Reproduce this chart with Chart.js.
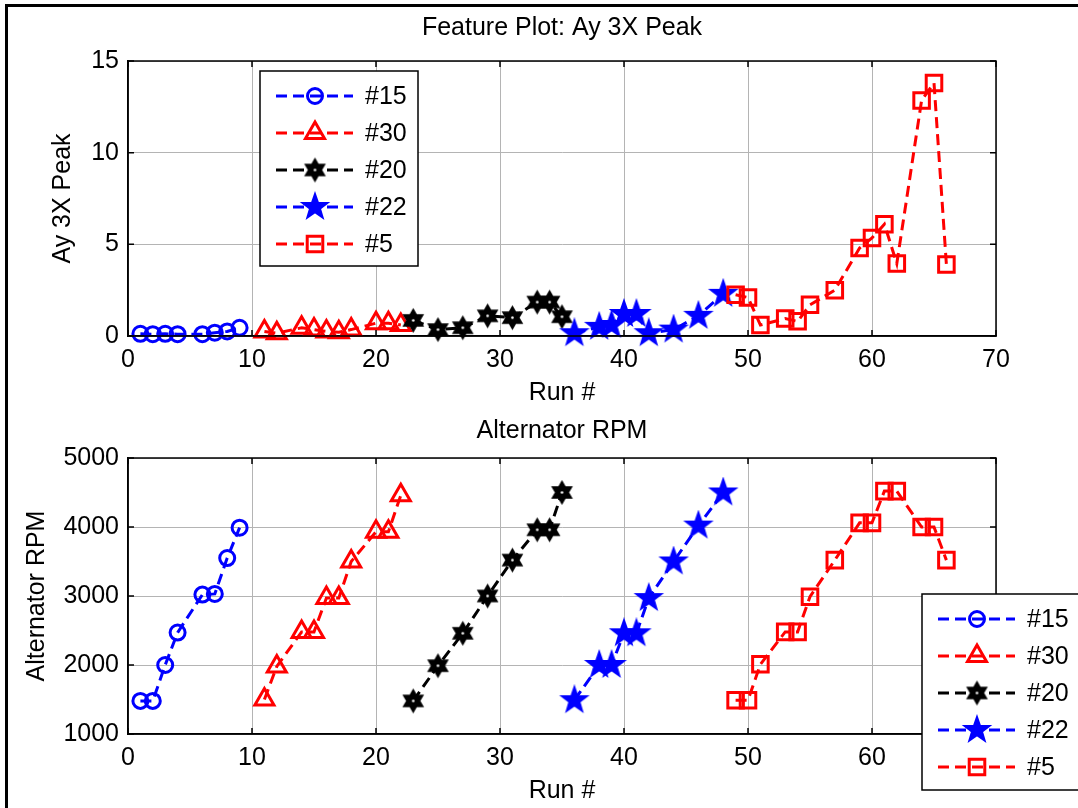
<!DOCTYPE html>
<html>
<head>
<meta charset="utf-8">
<script src="https://cdn.jsdelivr.net/npm/chart.js@4.4.1/dist/chart.umd.min.js"></script>
<style>
  html, body { margin: 0; padding: 0; background: #fff; }
  body { width: 1078px; height: 808px; position: relative; overflow: hidden; }
  #frame { position: absolute; left: 5px; top: 4px; width: 1200px; height: 1000px; border-left: 3px solid #000; border-top: 3px solid #000; }
  #top { position: absolute; left: 0; top: 0; }
  #bottom { position: absolute; left: 0; top: 404px; }
</style>
</head>
<body>
<div id="frame"></div>
<canvas id="top" width="1078" height="410"></canvas>
<canvas id="bottom" width="1078" height="404"></canvas>
<script>
// runs per test series
const runs15 = [1, 2, 3, 4, 6, 7, 8, 9];
const runs30 = [11, 12, 14, 15, 16, 17, 18, 20, 21, 22];
const runs20 = [23, 25, 27, 29, 31, 33, 34, 35];
const runs22 = [36, 38, 39, 40, 41, 42, 44, 46, 48];
const runs5 = [49, 50, 51, 53, 54, 55, 57, 59, 60, 61, 62, 64, 65, 66];

// Ay 3X peak
const peak15 = [0.12, 0.1, 0.12, 0.1, 0.1, 0.18, 0.25, 0.45];
const peak30 = [0.25, 0.15, 0.45, 0.35, 0.25, 0.2, 0.35, 0.7, 0.7, 0.6];
const peak20 = [0.85, 0.35, 0.45, 1.1, 1.0, 1.85, 1.85, 1.05];
const peak22 = [0.15, 0.5, 0.6, 1.2, 1.2, 0.15, 0.35, 1.1, 2.3];
const peak5 = [2.25, 2.1, 0.6, 0.95, 0.8, 1.7, 2.5, 4.8, 5.35, 6.1, 3.95, 12.85, 13.8, 3.9];

// alternator rpm
const rpm15 = [1480, 1480, 2000, 2470, 3020, 3030, 3550, 3990];
const rpm30 = [1500, 1980, 2480, 2480, 2970, 2970, 3500, 3930, 3930, 4460];
const rpm20 = [1480, 1990, 2460, 3000, 3520, 3960, 3960, 4500];
const rpm22 = [1490, 2000, 2000, 2460, 2460, 2970, 3500, 4020, 4500];
const rpm5 = [1490, 1490, 2010, 2480, 2480, 2990, 3520, 4060, 4060, 4520, 4520, 4000, 4000, 3520];

const seriesLabels = ['#15', '#30', '#20', '#22', '#5'];
const xTickValues = [0, 10, 20, 30, 40, 50, 60, 70];
const peakTickValues = [0, 5, 10, 15];
const rpmTickValues = [1000, 2000, 3000, 4000, 5000];

const FONT = '"Liberation Sans", Arial, Helvetica, sans-serif';
const BLUE = '#0000ff', RED = '#ff0000', BLACK = '#000000';

// star shaped markers (matlab pentagram / hexagram)
function starMarker(points, rOut, rIn, color, dot) {
  const size = Math.ceil(2 * rOut + 6);
  const c = document.createElement('canvas');
  c.width = c.height = size;
  const g = c.getContext('2d');
  const cx = size / 2;
  g.beginPath();
  for (let i = 0; i < points * 2; i++) {
    const r = i % 2 ? rIn : rOut;
    const a = -Math.PI / 2 + i * Math.PI / points;
    g.lineTo(cx + r * Math.cos(a), cx + r * Math.sin(a));
  }
  g.closePath();
  g.fillStyle = color;
  g.fill();
  g.strokeStyle = color;
  g.lineWidth = 2;
  g.stroke();
  if (dot) {
    g.beginPath();
    g.arc(cx, cx, 1.3, 0, Math.PI * 2);
    g.fillStyle = '#fff';
    g.fill();
  }
  return c;
}
const hexagram = starMarker(6, 10.5, 6, BLACK, true);
const pentagram = starMarker(5, 13, 5.2, BLUE, false);

const markers = [
  { color: BLUE, style: 'circle', radius: 7.5 },
  { color: RED, style: 'triangle', radius: 11 },
  { color: BLACK, style: hexagram, radius: 10 },
  { color: BLUE, style: pentagram, radius: 12 },
  { color: RED, style: 'rect', radius: 11 }
];

function makeDatasets(runsList, valuesList) {
  return runsList.map((runs, i) => ({
    label: seriesLabels[i],
    data: runs.map((r, j) => ({ x: r, y: valuesList[i][j] })),
    borderColor: markers[i].color,
    borderWidth: 3,
    borderDash: [11, 6],
    tension: 0,
    fill: false,
    pointStyle: markers[i].style,
    pointRadius: markers[i].radius,
    pointBorderWidth: 3,
    pointBorderColor: markers[i].color,
    pointBackgroundColor: 'rgba(0,0,0,0)',
    clip: false,
    order: runsList.length - i
  }));
}

const runsList = [runs15, runs30, runs20, runs22, runs5];

// axes box, inward ticks and the legend box
const matlabBox = {
  id: 'matlabBox',
  afterDraw(chart, args, opts) {
    const { ctx, chartArea: a } = chart;
    const x = chart.scales.x, y = chart.scales.y;
    ctx.save();
    ctx.strokeStyle = '#000';
    ctx.lineWidth = 1.5;
    ctx.setLineDash([]);
    ctx.strokeRect(a.left, a.top, a.right - a.left, a.bottom - a.top);
    ctx.beginPath();
    x.ticks.forEach(t => {
      const px = x.getPixelForValue(t.value);
      ctx.moveTo(px, a.bottom); ctx.lineTo(px, a.bottom - 6);
      ctx.moveTo(px, a.top); ctx.lineTo(px, a.top + 6);
    });
    y.ticks.forEach(t => {
      const py = y.getPixelForValue(t.value);
      ctx.moveTo(a.left, py); ctx.lineTo(a.left + 6, py);
      ctx.moveTo(a.right, py); ctx.lineTo(a.right - 6, py);
    });
    ctx.stroke();

    const L = opts.legend;
    if (L) {
      ctx.fillStyle = '#fff';
      ctx.fillRect(L.left, L.top, L.width, L.height);
      ctx.lineWidth = 1.5;
      ctx.strokeStyle = '#000';
      ctx.strokeRect(L.left, L.top, L.width, L.height);
      chart.data.datasets.forEach((ds, i) => {
        const cy = L.top + 25 + i * 37;
        ctx.setLineDash([11, 6]);
        ctx.strokeStyle = ds.borderColor;
        ctx.lineWidth = 3;
        ctx.beginPath();
        ctx.moveTo(L.left + 16, cy);
        ctx.lineTo(L.left + 93, cy);
        ctx.stroke();
        ctx.setLineDash([]);
        ctx.fillStyle = 'rgba(0,0,0,0)';
        Chart.helpers.drawPoint(ctx, {
          pointStyle: ds.pointStyle, radius: ds.pointRadius,
          borderWidth: 3, rotation: 0
        }, L.left + 55, cy);
        ctx.fillStyle = '#000';
        ctx.font = '25px ' + FONT;
        ctx.textBaseline = 'middle';
        ctx.textAlign = 'left';
        ctx.fillText(ds.label, L.left + 105, cy + 1);
      });
    }
    ctx.restore();
  }
};

function makeOptions(cfg) {
  const tickFont = { family: FONT, size: 25 };
  const titleFont = { family: FONT, size: 25, weight: 'normal' };
  return {
    responsive: false,
    animation: false,
    events: [],
    layout: { padding: { left: 0, right: 82, top: 0, bottom: 0 } },
    plugins: {
      legend: { display: false },
      tooltip: { enabled: false },
      title: {
        display: true, text: cfg.title, color: '#000', fullSize: false,
        font: titleFont, padding: cfg.titlePad
      },
      matlabBox: { legend: cfg.legend }
    },
    scales: {
      x: {
        type: 'linear', min: 0, max: 70,
        afterBuildTicks: s => { s.ticks = xTickValues.map(v => ({ value: v })); },
        afterFit: s => { s.height = cfg.xHeight; },
        ticks: { color: '#000', font: tickFont, padding: 9, maxRotation: 0, autoSkip: false },
        grid: { color: '#b4b4b4', lineWidth: 1, drawTicks: false },
        border: { display: true, color: '#000', width: 1.5 },
        title: { display: true, text: 'Run #', color: '#000', font: titleFont, padding: { top: 0, bottom: 2 } }
      },
      y: {
        type: 'linear', min: cfg.yTicks[0], max: cfg.yTicks[cfg.yTicks.length - 1],
        afterBuildTicks: s => { s.ticks = cfg.yTicks.map(v => ({ value: v })); },
        afterFit: s => { s.width = 128; },
        ticks: { color: '#000', font: tickFont, padding: 9, callback: v => String(v) },
        grid: { color: '#b4b4b4', lineWidth: 1, drawTicks: false },
        border: { display: true, color: '#000', width: 1.5 },
        title: { display: true, text: cfg.yTitle, color: '#000', font: titleFont, padding: { top: cfg.yTitleOffset, bottom: 0 } }
      }
    }
  };
}

new Chart(document.getElementById('top'), {
  type: 'line',
  data: { datasets: makeDatasets(runsList, [peak15, peak30, peak20, peak22, peak5]) },
  options: makeOptions({
    title: 'Feature Plot: Ay 3X Peak',
    titlePad: { top: 13.5, bottom: 17.5 },
    xHeight: 74,
    yTicks: peakTickValues,
    yTitle: 'Ay 3X Peak',
    yTitleOffset: 48,
    legend: { left: 260, top: 71, width: 158, height: 195 }
  }),
  plugins: [matlabBox]
});

new Chart(document.getElementById('bottom'), {
  type: 'line',
  data: { datasets: makeDatasets(runsList, [rpm15, rpm30, rpm20, rpm22, rpm5]) },
  options: makeOptions({
    title: 'Alternator RPM',
    titlePad: { top: 12, bottom: 12 },
    xHeight: 74,
    yTicks: rpmTickValues,
    yTitle: 'Alternator RPM',
    yTitleOffset: 21.7,
    legend: { left: 922, top: 190, width: 170, height: 196 }
  }),
  plugins: [matlabBox]
});
</script>
</body>
</html>
